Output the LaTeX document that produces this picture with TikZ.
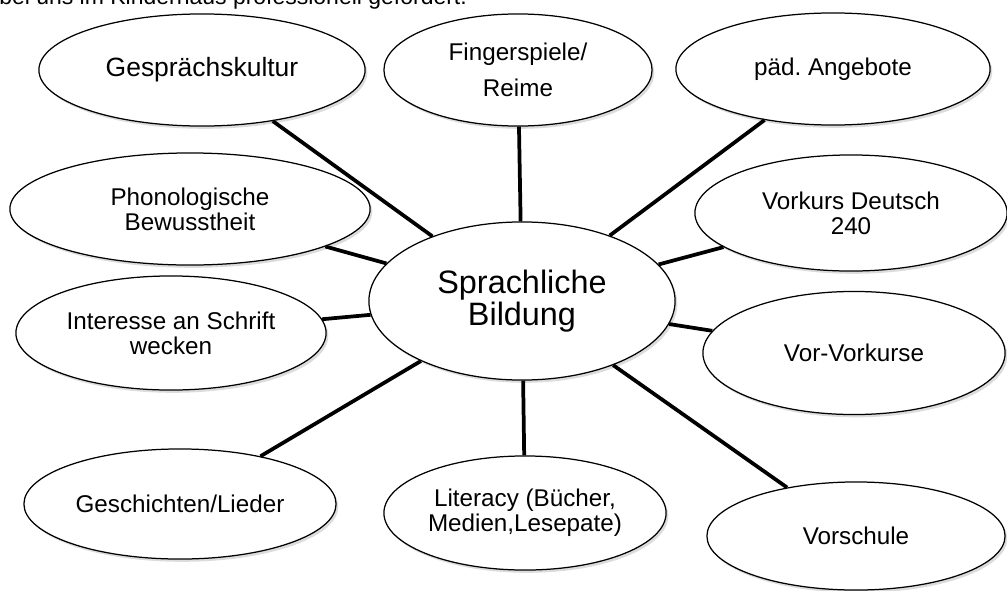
\documentclass[tikz,border=0pt]{standalone}
\usepackage{fontspec}
\setmainfont{Liberation Sans}
\usepackage{xcolor}
\usepackage{tikz}
\usetikzlibrary{shapes.geometric,shadows}
\definecolor{SInk}{HTML}{000000}
\definecolor{SShade}{HTML}{9A9A9A}
\newcommand{\leaffont}{\fontsize{17.5}{18.1}\selectfont}
\frenchspacing

\begin{document}
\begin{tikzpicture}[
  x=0.01in,y=-0.01in,
  every node/.style={font=\leaffont,text=SInk},
  leaf/.style={ellipse,draw=SInk,line width=0.9pt,fill=white,inner sep=0pt,
    align=center,drop shadow={fill=SShade,opacity=0.35,shadow xshift=1.6pt,shadow yshift=-2pt}},
  hub/.style={leaf,font=\fontsize{23.4}{21.7}\selectfont},
  link/.style={line width=2.7pt,color=SInk}
]
  \useasboundingbox (0,0) rectangle (1007,590);
  \clip (0,0) rectangle (1007,590);

  % cut-off heading line
  \node[anchor=base west,inner sep=0pt,font=\fontsize{16.6}{18}\selectfont] (head) at (-1,4)
    {bei uns im Kinderhaus professionell gefördert.};

  \node[hub,minimum width=3.06in,minimum height=1.58in] (sprache) at (522,301)
    {Sprachliche\\Bildung};

  \node[leaf,minimum width=3.26in,minimum height=1.12in,font=\fontsize{19.1}{20}\selectfont]
    (gespraech) at (202,70) {Gesprächskultur};
  \node[leaf,minimum width=2.68in,minimum height=1.12in,font=\fontsize{17.5}{26}\selectfont]
    (finger) at (518,70) {Fingerspiele/\\Reime};
  \node[leaf,minimum width=3.14in,minimum height=1.12in] (angebote) at (833,69)
    {päd. Angebote};
  \node[leaf,minimum width=3.60in,minimum height=1.12in] (phono) at (190,209)
    {Phonologische\\Bewusstheit};
  \node[leaf,minimum width=3.12in,minimum height=1.16in] (vorkurs) at (851,213)
    {Vorkurs Deutsch\\240};
  \node[leaf,minimum width=3.10in,minimum height=1.14in] (schrift) at (171,333)
    {Interesse an Schrift\\wecken};
  \node[leaf,minimum width=3.02in,minimum height=1.23in] (vorvor) at (854,353)
    {Vor-Vorkurse};
  \node[leaf,minimum width=3.12in,minimum height=1.10in] (lieder) at (180,504)
    {Geschichten/Lieder};
  \node[leaf,minimum width=2.82in,minimum height=1.14in] (literacy) at (525,513)
    {Literacy (Bücher,\\Medien,Lesepate)};
  \node[leaf,minimum width=2.98in,minimum height=1.08in] (vorschule) at (856,536)
    {Vorschule};

  \foreach \leafname in {gespraech,finger,angebote,phono,vorkurs,
      schrift,vorvor,lieder,literacy,vorschule}
    \draw[link] (sprache) -- (\leafname);
\end{tikzpicture}
\end{document}
